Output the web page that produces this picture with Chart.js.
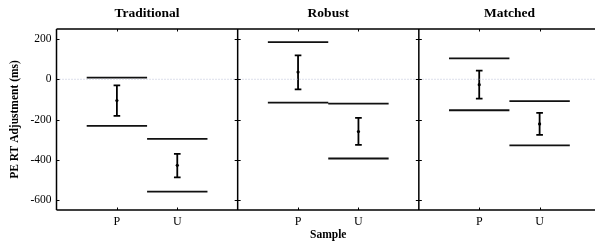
<!DOCTYPE html>
<html>
<head>
<meta charset="utf-8">
<script src="https://cdn.jsdelivr.net/npm/chart.js@4/dist/chart.umd.min.js"></script>
<style>
  html, body { margin: 0; padding: 0; background: #fff; overflow: hidden; width: 595px; height: 244px; }
  #wrap { position: absolute; left: 0; top: 0; width: 604px; height: 244px; }
</style>
</head>
<body>
<div id="wrap"><canvas id="c" width="604" height="244"></canvas></div>
<script>
// ---- data ----
const panels = ['Traditional', 'Robust', 'Matched'];
const categories = ['P', 'U'];
const yTicks = [-600, -400, -200, 0, 200];
// horizontal reference lines (upper / lower) per panel, per category
const upperLine = [[8, -296], [185, -121], [104, -109]];
const lowerLine = [[-232, -559], [-116, -394], [-154, -329]];
// point estimate with error bar
const meanVal = [[-106, -428], [36, -260], [-27, -222]];
const errHigh = [[-30, -371], [119, -192], [43, -167]];
const errLow  = [[-182, -488], [-50, -326], [-96, -276]];

// ---- build datasets ----
const nCat = categories.length;
const panelWidth = nCat + 1;
const xPos = (p, c) => p * panelWidth + c + 1;
const halfLine = 0.5, capHalf = 0.055;

const boundPts = [];
const errPts = [];
const meanPts = [];
panels.forEach((_, p) => {
  categories.forEach((__, c) => {
    const x = xPos(p, c);
    [upperLine[p][c], lowerLine[p][c]].forEach(v => {
      boundPts.push({x: x - halfLine, y: v}, {x: x + halfLine, y: v}, {x: x + halfLine, y: null});
    });
    const hi = errHigh[p][c], lo = errLow[p][c];
    errPts.push({x: x, y: lo}, {x: x, y: hi}, {x: x, y: null});
    errPts.push({x: x - capHalf, y: hi}, {x: x + capHalf, y: hi}, {x: x, y: null});
    errPts.push({x: x - capHalf, y: lo}, {x: x + capHalf, y: lo}, {x: x, y: null});
    meanPts.push({x: x, y: meanVal[p][c]});
  });
});
const xMax = panels.length * panelWidth;

const serif = '"Liberation Serif", "Times New Roman", serif';

const framePlugin = {
  id: 'frame',
  afterDatasetsDraw(chart) {
    const {ctx, chartArea: a, scales: {x, y}} = chart;
    ctx.save();
    ctx.strokeStyle = '#000';
    ctx.lineWidth = 1.5;
    // outer frame + panel dividers
    ctx.beginPath();
    ctx.moveTo(a.left, a.top); ctx.lineTo(a.right, a.top);
    ctx.moveTo(a.left, a.bottom); ctx.lineTo(a.right, a.bottom);
    for (let p = 0; p <= panels.length; p++) {
      const px = x.getPixelForValue(p * panelWidth);
      ctx.moveTo(px, a.top); ctx.lineTo(px, a.bottom);
    }
    ctx.stroke();
    // inner ticks
    ctx.lineWidth = 1;
    ctx.beginPath();
    for (let p = 0; p <= panels.length; p++) {
      const px = x.getPixelForValue(p * panelWidth);
      yTicks.forEach(v => {
        const py = Math.round(y.getPixelForValue(v)) + 0.5;
        ctx.moveTo(p === 0 ? px : px - 3, py);
        ctx.lineTo(px + 3, py);
      });
    }
    panels.forEach((_, p) => categories.forEach((__, c) => {
      const px = Math.round(x.getPixelForValue(xPos(p, c))) + 0.5;
      ctx.moveTo(px, a.top); ctx.lineTo(px, a.top + 2.5);
      ctx.moveTo(px, a.bottom); ctx.lineTo(px, a.bottom - 2.5);
    }));
    ctx.stroke();
    // panel titles
    ctx.fillStyle = '#000';
    ctx.font = 'bold 13.5px ' + serif;
    ctx.textAlign = 'center';
    ctx.textBaseline = 'middle';
    panels.forEach((t, p) => {
      ctx.fillText(t, x.getPixelForValue(p * panelWidth + panelWidth / 2), 14);
    });
    ctx.restore();
  }
};

new Chart(document.getElementById('c'), {
  type: 'scatter',
  data: {
    datasets: [
      {
        label: 'zero',
        data: [{x: 0, y: 0}, {x: xMax, y: 0}],
        showLine: true, borderColor: '#b9bdd6', borderWidth: 1, borderDash: [1, 2],
        pointRadius: 0
      },
      {
        label: 'bounds',
        data: boundPts,
        showLine: true, spanGaps: false, borderColor: '#111', borderWidth: 1.8,
        pointRadius: 0
      },
      {
        label: 'errors',
        data: errPts,
        showLine: true, spanGaps: false, borderColor: '#000', borderWidth: 1.8,
        pointRadius: 0
      },
      {
        label: 'means',
        data: meanPts,
        showLine: false, pointRadius: 1.6, pointBackgroundColor: '#000', pointBorderWidth: 0
      }
    ]
  },
  options: {
    responsive: false,
    animation: false,
    devicePixelRatio: 1,
    layout: { padding: { left: 0, right: 3, top: 29, bottom: 0 } },
    plugins: { legend: { display: false }, tooltip: { enabled: false } },
    scales: {
      x: {
        type: 'linear', min: 0, max: xMax,
        grid: { display: false, drawTicks: false },
        border: { display: false },
        afterBuildTicks(s) {
          const t = [];
          panels.forEach((_, p) => categories.forEach((__, c) => t.push({value: xPos(p, c)})));
          s.ticks = t;
        },
        afterFit(s) { s.height = 34; },
        ticks: {
          padding: 5, color: '#000', maxRotation: 0, autoSkip: false,
          font: { family: serif, size: 12 },
          callback(v) { return categories[(Math.round(v) - 1) % panelWidth]; }
        },
        title: {
          display: true, text: 'Sample', color: '#000',
          font: { family: serif, size: 11.5, weight: 'bold', lineHeight: 1.2 },
          padding: { top: 0, bottom: 2 }
        }
      },
      y: {
        type: 'linear', min: -650, max: 250,
        grid: { display: false, drawTicks: false },
        border: { display: false },
        afterBuildTicks(s) { s.ticks = yTicks.map(v => ({value: v})); },
        afterFit(s) { s.width = 56.5; },
        ticks: {
          padding: 5, color: '#000',
          font: { family: serif, size: 11.5 }
        },
        title: {
          display: true, text: 'PE RT Adjustment (ms)', color: '#000',
          font: { family: serif, size: 11.5, weight: 'bold', lineHeight: 1.2 },
          padding: { top: 8, bottom: 0 }
        }
      }
    }
  },
  plugins: [framePlugin]
});
</script>
</body>
</html>
